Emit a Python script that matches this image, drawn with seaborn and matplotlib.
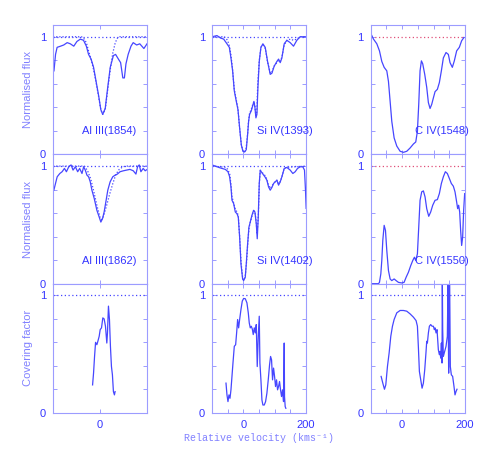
import numpy as np
import pandas as pd
import matplotlib
matplotlib.use("Agg")
import matplotlib.pyplot as plt
import seaborn as sns
from matplotlib.ticker import MultipleLocator, FixedLocator, FuncFormatter

# Al III 1854
al1854_v = [-147, -142, -137, -126, -116, -105, -95, -84, -74, -63, -53, -44, -37, -29, -21, -13, -5, 2, 8, 16,
            24, 32, 42, 49, 58, 65, 72, 77, 82, 89, 98, 105, 116, 126, 139, 149]
al1854_f = [0.71, 0.85, 0.91, 0.92, 0.93, 0.95, 0.94, 0.92, 0.96, 0.98, 0.97, 0.92, 0.85, 0.81, 0.74, 0.62, 0.50, 0.38, 0.34, 0.39,
            0.57, 0.74, 0.84, 0.85, 0.81, 0.78, 0.65, 0.65, 0.77, 0.85, 0.92, 0.95, 0.93, 0.94, 0.90, 0.94]
al1854_mv = [-150, -60, -53, -44, -37, -29, -21, -13, -5, 2, 8, 16, 24, 32, 40, 48, 55, 62, 150]
al1854_mf = [1.0, 1.0, 0.99, 0.95, 0.88, 0.81, 0.72, 0.61, 0.49, 0.38, 0.34, 0.38, 0.55, 0.72, 0.86, 0.95, 0.99, 1.0, 1.0]

# Si IV 1393
si1393_v = [-99.5, -83.6, -73, -62.4, -51.9, -44.4, -39.2, -33.9, -28.6, -22.2, -16.9, -11.6, -6.3, -1.1, 4.2, 9.5,
            13.8, 16.9, 20.1, 25.4, 30.7, 33.9, 37, 40.2, 43.4, 46.6, 50.8, 56.1, 62.4, 69.8, 77.2, 85.7, 91, 98.4,
            106.9, 112.2, 117.5, 122.8, 130.2, 138.6, 149.2, 159.8, 170.4, 181, 191.5, 200]
si1393_f = [1.0, 1.01, 0.99, 0.98, 0.94, 0.91, 0.82, 0.71, 0.54, 0.45, 0.38, 0.225, 0.08, 0.026, 0.02, 0.04,
            0.17, 0.28, 0.34, 0.37, 0.42, 0.45, 0.40, 0.31, 0.34, 0.57, 0.79, 0.91, 0.94, 0.91, 0.79, 0.68, 0.69, 0.75,
            0.79, 0.81, 0.78, 0.82, 0.94, 0.97, 0.95, 0.92, 0.97, 1.0, 1.0, 1.0]
si1393_mv = [-100, -60, -50, -44, -39, -34, -29, -22, -17, -12, -6, -1, 4, 9, 14, 17, 20, 25, 31, 34, 37, 40, 43,
             46, 51, 56, 62, 70, 77, 86, 91, 98, 107, 112, 118, 123, 130, 139, 150, 160, 170, 181, 200]
si1393_mf = [1.0, 1.0, 0.97, 0.92, 0.84, 0.72, 0.56, 0.46, 0.39, 0.23, 0.08, 0.03, 0.02, 0.05, 0.18, 0.29, 0.35,
             0.38, 0.43, 0.45, 0.41, 0.33, 0.36, 0.60, 0.80, 0.91, 0.93, 0.90, 0.79, 0.69, 0.70, 0.75, 0.78, 0.80,
             0.79, 0.83, 0.93, 0.97, 0.98, 0.97, 0.98, 1.0, 1.0]

# C IV 1548
c1548_v = [-96.3, -91, -80.4, -72, -64.6, -57.1, -48.7, -43.4, -38.1, -32.8, -25.4, -16.9, -6.3, 4.2, 14.8, 25.4,
           36, 43.4, 48.7, 52.9, 57.1, 61.4, 65.6, 72, 78.3, 83.6, 88.9, 94.2, 99.5, 104.8, 112.2, 118.5, 124.9,
           131.2, 139.7, 147.1, 152.4, 159.8, 166.1, 173.5, 182, 189.4, 196.8]
c1548_f = [1.01, 0.98, 0.94, 0.88, 0.79, 0.74, 0.71, 0.62, 0.45, 0.28, 0.14, 0.07, 0.026, 0.017, 0.026, 0.054,
           0.088, 0.105, 0.197, 0.425, 0.71, 0.795, 0.77, 0.68, 0.57, 0.44, 0.39, 0.425, 0.48, 0.533, 0.553, 0.61,
           0.71, 0.82, 0.866, 0.85, 0.78, 0.74, 0.795, 0.88, 0.91, 0.966, 0.994]

# Al III 1862
al1862_v = [-147.4, -142.1, -136.8, -128.4, -121.1, -113.7, -107.4, -100, -92.6, -86.3, -78.9, -71.6, -65.3, -57.9,
            -52.6, -47.4, -42.1, -36.8, -31.6, -26.3, -18.9, -10.5, -3.2, 2.1, 7.4, 12.6, 18.9, 24.2, 31.6, 40, 47.4,
            54.7, 63.2, 73.7, 84.2, 94.7, 105.3, 113.7, 118.9, 124.2, 129.5, 136.8, 143.2, 149.5]
al1862_f = [0.795, 0.852, 0.909, 0.937, 0.952, 0.98, 0.952, 0.994, 1.01, 0.966, 0.994, 0.952, 0.98, 0.937,
            0.994, 0.966, 0.923, 0.909, 0.866, 0.795, 0.724, 0.624, 0.567, 0.524, 0.553, 0.61, 0.709, 0.795, 0.866,
            0.909, 0.923, 0.932, 0.952, 0.96, 0.966, 0.972, 0.96, 0.932, 0.994, 1.01, 0.952, 0.98, 0.96, 0.972]
al1862_mv = [-150, -50, -40, -30, -20, -10, 0, 5, 10, 20, 30, 40, 50, 60, 70, 80, 150]
al1862_mf = [1.0, 1.0, 0.96, 0.89, 0.78, 0.66, 0.56, 0.545, 0.57, 0.66, 0.76, 0.85, 0.93, 0.97, 0.99, 1.0, 1.0]

# Si IV 1402
si1402_v = [-99.5, -88.9, -78.3, -67.7, -57.1, -48.7, -43.4, -39.2, -36, -30.7, -25.4, -20.1, -15.9, -11.6, -7.4,
            -2.1, 1.1, 6.3, 9.5, 13.8, 18, 22.2, 27.5, 32.8, 37, 41.3, 44.4, 47.6, 50.8, 54, 57.1, 62.4, 68.8, 75.1,
            80.4, 85.7, 91, 96.3, 101.6, 106.9, 112.2, 117.5, 122.8, 130.2, 138.6, 149.2, 157.7, 165.1, 172.5, 181,
            189.4, 194.7, 197.9, 200]
si1402_f = [1.01, 1.0, 0.989, 0.98, 0.972, 0.952, 0.909, 0.823, 0.71, 0.681, 0.61, 0.595, 0.567, 0.396, 0.168,
            0.04, 0.026, 0.054, 0.168, 0.339, 0.481, 0.524, 0.581, 0.624, 0.61, 0.51, 0.382, 0.567, 0.852, 0.966,
            0.952, 0.932, 0.909, 0.88, 0.823, 0.795, 0.818, 0.852, 0.866, 0.88, 0.838, 0.866, 0.909, 0.98, 0.989,
            0.966, 0.937, 0.952, 0.98, 0.994, 0.994, 0.966, 0.795, 0.64]
si1402_mv = [-100, -55, -49, -43, -39, -36, -31, -25, -20, -16, -12, -7, -2, 1, 6, 10, 14, 18, 22, 28, 33, 37, 41,
             44, 48, 51, 54, 62, 69, 75, 80, 86, 91, 96, 102, 107, 112, 118, 123, 130, 139, 200]
si1402_mf = [1.0, 0.99, 0.97, 0.93, 0.84, 0.74, 0.69, 0.63, 0.61, 0.58, 0.42, 0.18, 0.05, 0.03, 0.06, 0.17, 0.33,
             0.47, 0.52, 0.58, 0.62, 0.61, 0.53, 0.42, 0.58, 0.85, 0.96, 0.94, 0.92, 0.89, 0.84, 0.81, 0.83, 0.85,
             0.87, 0.88, 0.85, 0.87, 0.91, 0.98, 0.99, 1.0]

# C IV 1550
c1550_v = [-99.5, -75.1, -72, -67.7, -64.6, -61.4, -57.1, -52.9, -48.7, -43.4, -38.1, -32.8, -25.4, -19, -11.6,
           -1.1, 6.3, 12.7, 20.1, 27.5, 33.9, 39.2, 43.4, 48.7, 52.9, 57.1, 62.4, 67.7, 73, 78.3, 84.7, 91, 97.4,
           104.8, 112.2, 118.5, 124.9, 131.2, 137.6, 143.9, 150.3, 156.6, 163, 168.3, 173.5, 176.7, 179.9, 183.1,
           186.2, 189.4, 192.6, 195.8, 199]
c1550_f = [0.0, 0.0, 0.011, 0.083, 0.197, 0.368, 0.496, 0.453, 0.282, 0.111, 0.04, 0.026, 0.04, 0.026, 0.011,
           0.006, 0.011, 0.054, 0.097, 0.154, 0.197, 0.225, 0.197, 0.254, 0.481, 0.709, 0.781, 0.789, 0.738, 0.638,
           0.573, 0.61, 0.667, 0.709, 0.715, 0.766, 0.852, 0.909, 0.952, 0.937, 0.895, 0.852, 0.829, 0.781, 0.695,
           0.638, 0.667, 0.61, 0.453, 0.325, 0.396, 0.624, 0.766]

# covering factors
cf_al_v = [-24.2, -21.1, -17.9, -14.7, -10.5, -7.4, -3.2, 0, 4.2, 8.4, 12.6, 16.8, 21.1, 23.2, 26.3, 29.5, 32.6,
           35.8, 38.9, 42.1, 45.3, 47.4]
cf_al_f = [0.239, 0.339, 0.481, 0.601, 0.581, 0.61, 0.652, 0.709, 0.724, 0.809, 0.80, 0.738, 0.595, 0.681, 0.909,
           0.795, 0.567, 0.396, 0.325, 0.182, 0.154, 0.182]
cf_si_v = [-55, -51.9, -48.7, -45.5, -42.3, -39.2, -36, -32.8, -28.6, -24.3, -21.2, -18, -14.8, -11.6, -7.4, -3.2,
           1.1, 6.3, 11.6, 15.9, 19, 22.2, 25.4, 28.6, 31.7, 34.9, 38.1, 41.3, 44.4, 47.6, 50.8, 52.9, 56.1, 59.3,
           62.4, 66.7, 70.9, 75.1, 79.4, 83.6, 86.8, 89.9, 93.1, 96.3, 99.5, 102.6, 105.8, 109, 112.2, 115.3, 118.5,
           121.7, 124.9, 128, 130.2, 131.2, 133.3, 135.4]
cf_si_f = [0.254, 0.154, 0.097, 0.154, 0.125, 0.197, 0.311, 0.425, 0.567, 0.581, 0.681, 0.795, 0.724, 0.795, 0.88,
           0.952, 0.974, 0.972, 0.937, 0.852, 0.766, 0.724, 0.738, 0.715, 0.667, 0.724, 0.681, 0.752, 0.395, 0.652,
           0.823, 0.425, 0.282, 0.111, 0.068, 0.068, 0.097, 0.168, 0.282, 0.41, 0.481, 0.453, 0.282, 0.382, 0.311,
           0.225, 0.282, 0.197, 0.225, 0.268, 0.197, 0.14, 0.197, 0.097, 0.595, 0.14, 0.054, 0.04]
cf_c_v = [-66.7, -61.4, -56.1, -51.9, -46.6, -41.3, -36, -30.7, -25.4, -16.9, -6.3, 4.2, 14.8, 25.4, 36, 44.4,
          48.7, 51.9, 55, 59.3, 63.5, 67.7, 72, 76.2, 78.3, 80.4, 83.6, 86.8, 91, 95.2, 99.5, 102.6, 104.8, 108,
          111.1, 113.2, 115.3, 118.5, 120.6, 122.8, 124.9, 127, 128, 129.1, 131.2, 135.4, 139.7, 143.9, 146, 148.1,
          149.2, 151.3, 153.4, 156.6, 160.8, 165.1, 168.3, 171.4, 174.6]
cf_c_f = [0.311, 0.254, 0.202, 0.239, 0.396, 0.51, 0.652, 0.738, 0.795, 0.852, 0.872, 0.872, 0.866, 0.843, 0.815,
          0.786, 0.738, 0.553, 0.353, 0.282, 0.211, 0.254, 0.368, 0.524, 0.61, 0.595, 0.681, 0.738, 0.752, 0.738,
          0.738, 0.709, 0.724, 0.681, 0.709, 0.624, 0.538, 0.496, 0.524, 0.467, 0.595, 0.425, 1.1, 0.71, 0.481,
          0.524, 0.567, 0.652, 1.1, 0.339, 1.1, 1.1, 0.396, 0.325, 0.311, 0.225, 0.154, 0.182, 0.202]

LINE = "#4646ff"
FRAME = "#9c9cff"
TICKTXT = "#3535ff"
LABTXT = "#8080ff"
RED = "#e0507a"

plt.rcParams["font.family"] = ["Liberation Sans", "DejaVu Sans"]

fig, axes = plt.subplots(3, 3, figsize=(4.91, 4.63), dpi=100)
fig.subplots_adjust(left=0.108, right=0.947, bottom=0.108, top=0.946, hspace=0, wspace=0.684)


def fmt_x(val, pos):
    return "%d" % val if val in (0, 200) else ""


def fmt_y(val, pos):
    return "%d" % round(val) if abs(val) < 1e-6 or abs(val - 1) < 1e-6 else ""


def style(ax, col, row):
    if col == 0:
        ax.set_xlim(-150, 150)
        ax.xaxis.set_major_locator(FixedLocator([0]))
    else:
        ax.set_xlim(-100, 200)
        ax.xaxis.set_major_locator(MultipleLocator(50))
    ax.set_ylim(0, 1.1)
    ax.yaxis.set_major_locator(FixedLocator([0, 0.2, 0.4, 0.6, 0.8, 1.0]))
    ax.xaxis.set_major_formatter(FuncFormatter(fmt_x))
    ax.yaxis.set_major_formatter(FuncFormatter(fmt_y))
    ax.tick_params(direction="in", length=3, width=0.7, color=FRAME, labelcolor=TICKTXT,
                   labelsize=8, top=True, right=True, pad=5)
    if row < 2:
        ax.tick_params(axis="x", labelbottom=False)
    for s in ax.spines.values():
        s.set_color(FRAME)
        s.set_linewidth(0.8)
    ax.set_xlabel("")
    ax.set_ylabel("")


panels = [
    [(al1854_v, al1854_f, al1854_mv, al1854_mf, "Al III(1854)", -57, LINE),
     (si1393_v, si1393_f, si1393_mv, si1393_mf, "Si IV(1393)", 44, LINE),
     (c1548_v, c1548_f, None, None, "C IV(1548)", 41, RED)],
    [(al1862_v, al1862_f, al1862_mv, al1862_mf, "Al III(1862)", -57, LINE),
     (si1402_v, si1402_f, si1402_mv, si1402_mf, "Si IV(1402)", 44, LINE),
     (c1550_v, c1550_f, None, None, "C IV(1550)", 41, RED)],
    [(cf_al_v, cf_al_f, None, None, None, 0, LINE),
     (cf_si_v, cf_si_f, None, None, None, 0, LINE),
     (cf_c_v, cf_c_f, None, None, None, 0, LINE)],
]

for r in range(3):
    for c in range(3):
        ax = axes[r, c]
        v, f, mv, mf, name, lx, refc = panels[r][c]
        xr = (-150, 150) if c == 0 else (-100, 200)
        ax.plot(xr, [1, 1], color=refc, linestyle=(0, (1, 2)), linewidth=0.9)
        if mv is not None:
            sns.lineplot(x=mv, y=mf, ax=ax, color=LINE, linestyle=(0, (1, 1.5)), linewidth=0.9,
                         sort=False, estimator=None)
        sns.lineplot(x=v, y=f, ax=ax, color=LINE, linewidth=0.9, sort=False, estimator=None)
        if name:
            ax.text(lx, 0.17, name, color=TICKTXT, fontsize=8, ha="left", va="baseline", clip_on=False)
        style(ax, c, r)

for r, lab in enumerate(["Normalised flux", "Normalised flux", "Covering factor"]):
    axes[r, 0].set_ylabel(lab, color=LABTXT, fontsize=8)
    axes[r, 0].yaxis.set_label_coords(-0.21, 0.5)

axes[2, 1].set_xlabel("Relative velocity (kms\u207b\u00b9)", color=LABTXT, fontsize=7.2,
                      family=["Liberation Mono", "DejaVu Sans Mono"], labelpad=2)

fig.savefig("out.png", dpi=100)
